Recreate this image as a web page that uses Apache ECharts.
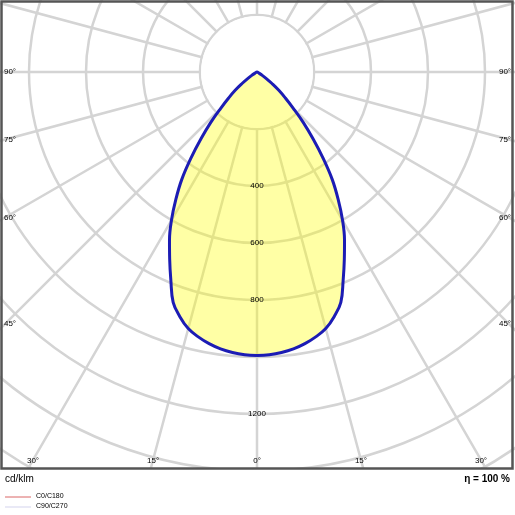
<!DOCTYPE html>
<html>
<head>
<meta charset="utf-8">
<script src="https://cdn.jsdelivr.net/npm/echarts@6/dist/echarts.min.js"></script>
<style>html,body{margin:0;padding:0;background:#fff}#chart{width:515px;height:515px}</style>
</head>
<body>
<div id="chart"></div>
<script>
// 光强分布 (cd/klm)，γ 每 2.5° 一个点
var gamma_deg = [0, 2.5, 5, 7.5, 10, 12.5, 15, 17.5, 20, 22.5, 25, 27.5, 30, 32.5, 35, 37.5, 40, 42.5, 45, 47.5, 50, 52.5, 55, 57.5, 60, 65, 70, 80, 90];
var intensity = [995, 993, 988, 980, 968, 952, 932, 900, 860, 790, 725, 665, 600, 530, 460, 380, 305, 240, 180, 135, 100, 65, 40, 20, 8, 0, 0, 0, 0];
var ring_labels = [400, 600, 800, 1200];
var side_labels = ["90°", "75°", "60°", "45°"];
var side_angles = [90, 75, 60, 45];
var bottom_labels = ["30°", "15°", "0°", "15°", "30°"];
var bottom_angles = [-30, -15, 0, 15, 30];

var cx = 257, cy = 72, r_max = 1800, r_px = 513;
var k = r_px / r_max;

// 组合成闭合曲线（两侧对称）
var curve = [];
for (var i = 0; i < gamma_deg.length; i++) curve.push([intensity[i], gamma_deg[i]]);
for (var j = gamma_deg.length - 2; j >= 0; j--) curve.push([intensity[j], 360 - gamma_deg[j]]);

var graphics = [
	// 内圈白色遮挡
	{ type: "circle", shape: { cx: cx, cy: cy, r: 200 * k - 1 }, style: { fill: "#fff" }, z: 1 },
	{ type: "rect", shape: { x: 0, y: 469, width: 515, height: 50 }, style: { fill: "#fff" }, z: 100 },
	{ type: "rect", shape: { x: 1.5, y: 1.5, width: 511, height: 467 }, style: { fill: "none", stroke: "#555", lineWidth: 2.5 }, z: 101 },
	{ type: "text", x: 5, y: 474, style: { text: "cd/klm", font: "10px Liberation Sans", fill: "#000" }, z: 102 },
	{ type: "text", x: 510, y: 474, style: { text: "η = 100 %", font: "bold 10px Liberation Sans", fill: "#000", textAlign: "right" }, z: 102 },
	{ type: "line", shape: { x1: 5, y1: 497, x2: 31, y2: 497 }, style: { stroke: "#d04040", lineWidth: 0.8 }, z: 102 },
	{ type: "text", x: 36, y: 493, style: { text: "C0/C180", font: "7px Liberation Sans", fill: "#000" }, z: 102 },
	{ type: "line", shape: { x1: 5, y1: 507, x2: 31, y2: 507 }, style: { stroke: "#c8c8e8", lineWidth: 0.8 }, z: 102 },
	{ type: "text", x: 36, y: 503, style: { text: "C90/C270", font: "7px Liberation Sans", fill: "#000" }, z: 102 }
];
ring_labels.forEach(function (v) {
	graphics.push({ type: "text", x: cx, y: cy + v * k, style: { text: String(v), font: "8px Liberation Sans", fill: "#000", textAlign: "center", textVerticalAlign: "middle" }, z: 50 });
});
side_angles.forEach(function (a, i) {
	var y = cy + (cx - 5) / Math.tan(a * Math.PI / 180);
	if (a === 90) y = cy;
	graphics.push({ type: "text", x: 10, y: y, style: { text: side_labels[i], font: "8px Liberation Sans", fill: "#000", textAlign: "center", textVerticalAlign: "middle" }, z: 102 });
	graphics.push({ type: "text", x: 505, y: y, style: { text: side_labels[i], font: "8px Liberation Sans", fill: "#000", textAlign: "center", textVerticalAlign: "middle" }, z: 102 });
});
bottom_angles.forEach(function (a, i) {
	var x = cx + 388 * Math.tan(a * Math.PI / 180);
	graphics.push({ type: "text", x: x, y: 461, style: { text: bottom_labels[i], font: "8px Liberation Sans", fill: "#000", textAlign: "center", textVerticalAlign: "middle" }, z: 102 });
});

var option = {
	animation: false,
	polar: { center: [cx, cy], radius: r_px },
	angleAxis: {
		type: "value", min: 0, max: 360, interval: 15, startAngle: 270,
		axisLine: { show: false }, axisTick: { show: false }, axisLabel: { show: false },
		splitLine: { lineStyle: { color: "#d4d4d4", width: 2.5 } }
	},
	radiusAxis: {
		type: "value", min: 0, max: r_max, interval: 200,
		axisLine: { show: false }, axisTick: { show: false }, axisLabel: { show: false },
		splitLine: { lineStyle: { color: "#d4d4d4", width: 2.5 } }
	},
	series: [{
		type: "line", coordinateSystem: "polar", data: curve, smooth: 0.4,
		symbol: "none", z: 5,
		lineStyle: { color: "#1c1cb4", width: 3 },
		areaStyle: { color: "rgba(255,255,0,0.5)" }
	}],
	graphic: graphics
};

var chart = echarts.init(document.getElementById("chart"));
chart.setOption(option);
</script>
</body>
</html>
